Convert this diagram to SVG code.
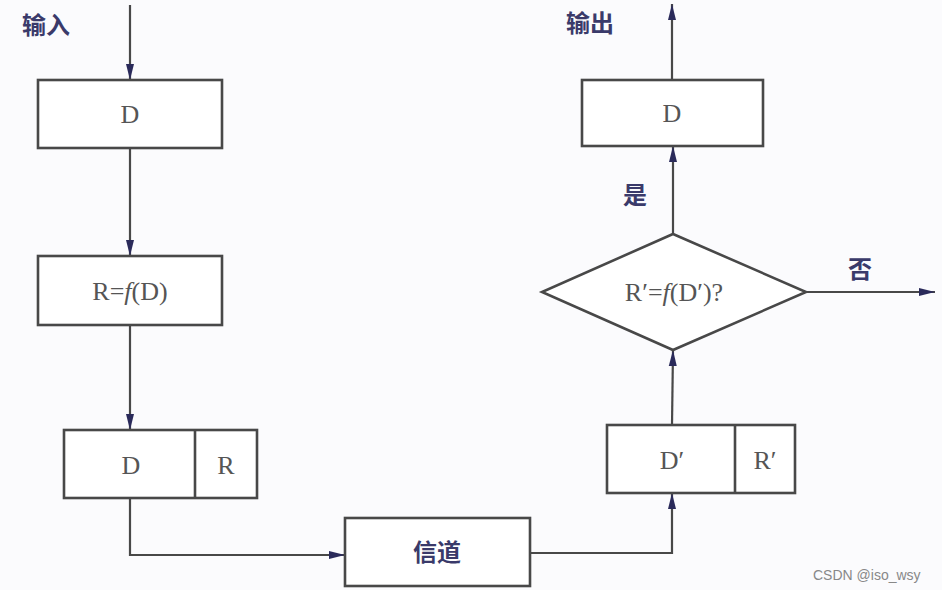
<svg xmlns="http://www.w3.org/2000/svg" width="942" height="590" viewBox="0 0 942 590">
<defs>
<marker id="ah" viewBox="0 0 16 10" refX="16" refY="5" markerWidth="16" markerHeight="10" markerUnits="userSpaceOnUse" orient="auto">
<path d="M0,1 L16,5 L0,9 Z" fill="#2a2a5a"/>
</marker>
<style>
.box{fill:#fff;stroke:#484848;stroke-width:2.6}
.ln{fill:none;stroke:#484848;stroke-width:2.2;marker-end:url(#ah)}
.t{font-family:"Liberation Serif",serif;font-size:26px;fill:#555;text-anchor:middle}
.c{font-family:"Liberation Serif","Noto Sans CJK SC",serif;font-size:24px;fill:#3a3a6a;font-weight:bold}
.w{font-family:"Liberation Sans",sans-serif;font-size:14px;fill:#888}
</style>
</defs>
<rect width="942" height="590" fill="#fbfbfd"/>
<g id="connectors">
<line class="ln" x1="130" y1="5" x2="130" y2="80"/>
<line class="ln" x1="130" y1="148" x2="130" y2="256"/>
<line class="ln" x1="130" y1="325" x2="130" y2="430"/>
<polyline class="ln" points="130,498 130,555 345,555"/>
<polyline class="ln" points="530,553 672,553 672,493"/>
<line class="ln" x1="672" y1="425" x2="673" y2="350"/>
<line class="ln" x1="673" y1="234" x2="673" y2="146"/>
<line class="ln" x1="806" y1="292" x2="935" y2="292"/>
<line class="ln" x1="672" y1="80" x2="672" y2="4"/>
</g>
<g id="label-in"><text class="c" x="22" y="34">输入</text></g>
<g id="label-out"><text class="c" x="566" y="32">输出</text></g>
<g id="label-yes"><text class="c" x="623" y="204" font-size="20">是</text></g>
<g id="label-no"><text class="c" x="848" y="278" font-size="20">否</text></g>
<g id="n1"><rect class="box" x="38" y="80" width="184" height="68"/><text class="t" x="130" y="123">D</text></g>
<g id="n2"><rect class="box" x="38" y="256" width="184" height="69"/><text class="t" x="130" y="300">R=<tspan font-style="italic">f</tspan>(D)</text></g>
<g id="n3"><rect class="box" x="64" y="430" width="193" height="68"/><line x1="195" y1="430" x2="195" y2="498" stroke="#484848" stroke-width="2.6"/><text class="t" x="131" y="474">D</text><text class="t" x="226" y="474">R</text></g>
<g id="n4"><rect class="box" x="345" y="518" width="185" height="68"/><text class="c" x="437" y="561" text-anchor="middle">信道</text></g>
<g id="n5"><rect class="box" x="607" y="425" width="188" height="68"/><line x1="735" y1="425" x2="735" y2="493" stroke="#484848" stroke-width="2.6"/><text class="t" x="672" y="469">D′</text><text class="t" x="765" y="469">R′</text></g>
<g id="n6"><polygon class="box" points="673,234 806,292 673,350 542,292"/><text class="t" x="674" y="301">R′=<tspan font-style="italic">f</tspan>(D′)?</text></g>
<g id="n7"><rect class="box" x="582" y="80" width="181" height="66"/><text class="t" x="672" y="122">D</text></g>
<g id="watermark"><text class="w" x="813" y="580">CSDN @iso_wsy</text></g>
</svg>
